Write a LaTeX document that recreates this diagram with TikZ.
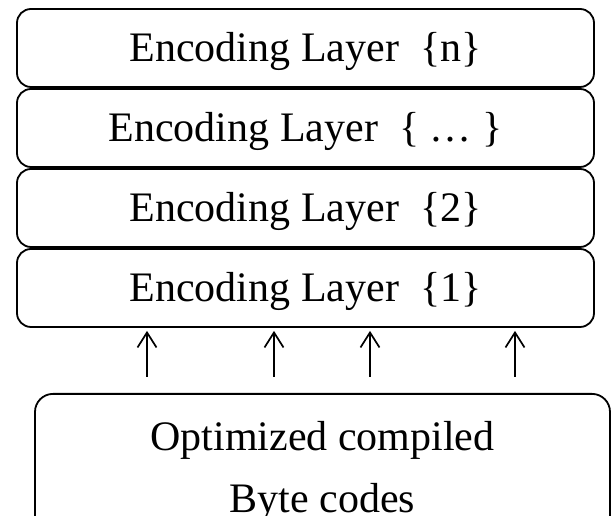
\documentclass[tikz,border=0pt]{standalone}
\usepackage{fontspec}
\setmainfont{Liberation Serif}
\usetikzlibrary{arrows.meta}
\begin{document}
\begin{tikzpicture}[x=1pt,y=1pt,
  layer/.style={draw, line width=1.8pt, rounded corners=14pt,
    minimum width=577pt, minimum height=78pt, inner sep=0pt,
    text height=27.8pt, text depth=0pt,
    font=\fontsize{42}{50}\selectfont},
  source/.style={draw, line width=1.8pt, rounded corners=18pt,
    minimum width=575pt, inner xsep=0pt, inner ysep=28pt, align=center,
    text height=91pt, text depth=20pt,
    font=\fontsize{42}{62}\selectfont},
  up/.style={line width=1.7pt,
    -{Straight Barb[length=15pt,width=19pt,line width=1.7pt]},
    shorten <=16pt, shorten >=3pt}]
\useasboundingbox (0,0) rectangle (611,516);
\clip (0,0) rectangle (611,516);
% stacked encoding layers
\node[layer] (ln) at (305.5,468) {Encoding Layer~~\{n\}};
\node[layer] (lx) at (305.5,388) {Encoding Layer~~\{ … \}};
\node[layer] (l2) at (305.5,308) {Encoding Layer~~\{2\}};
\node[layer] (l1) at (305.5,228) {Encoding Layer~~\{1\}};
% input box, running past the lower edge
\node[source, anchor=north] (bc) at (322.5,123) {Optimized compiled\\Byte codes};
% arrows feeding the first layer
\foreach \px in {147,274,370,515}
  \draw[up] (bc.north -| \px,0) -- (l1.south -| \px,0);
\end{tikzpicture}
\end{document}
